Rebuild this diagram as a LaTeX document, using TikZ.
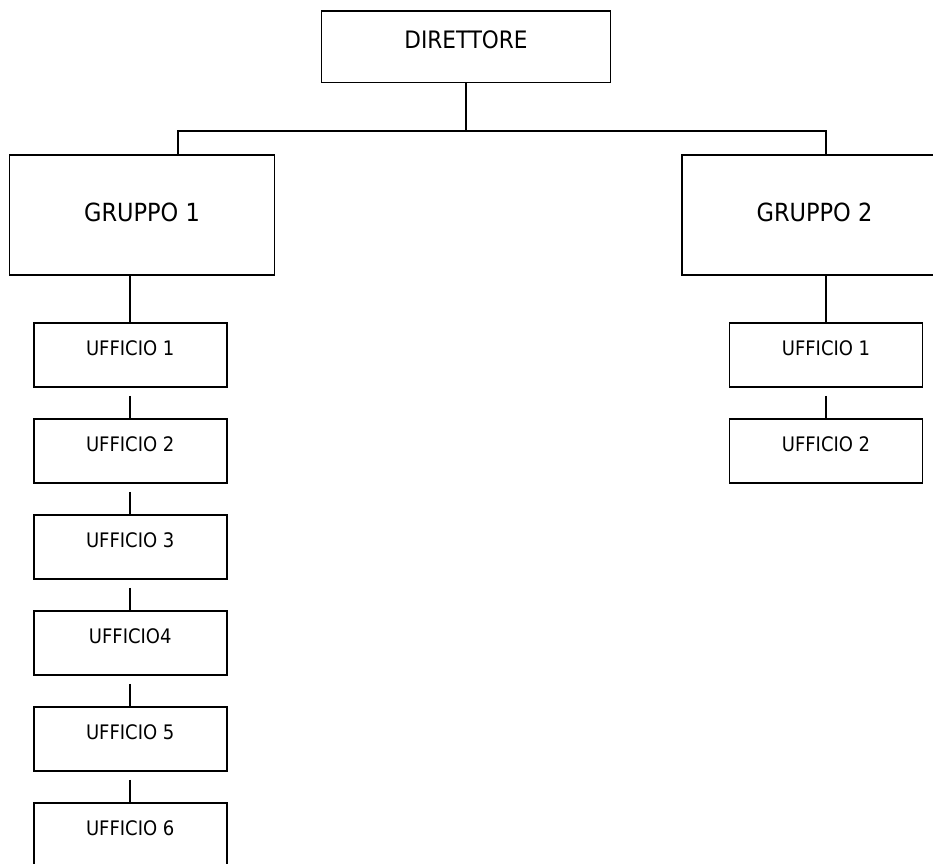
\documentclass[tikz,border=0pt]{standalone}
\usepackage{fontspec}
\setmainfont{DejaVu Sans Condensed}
\begin{document}
\begin{tikzpicture}[x=1pt,y=-1pt,
  box/.style={draw=black, line width=1.8pt, rectangle, inner sep=0pt},
  chief/.style={box, minimum width=289pt, minimum height=71.5pt,
    font=\fontsize{24}{28}\selectfont, text height=17pt, text depth=13pt},
  group/.style={box, minimum width=265pt, minimum height=120pt,
    font=\fontsize{25}{30}\selectfont, text height=18pt, text depth=6pt},
  office/.style={box, minimum width=193pt, minimum height=64pt,
    font=\fontsize{20}{24}\selectfont, text height=15pt, text depth=15pt},
  link/.style={line width=1.8pt},
  gaplink/.style={link, shorten <=8pt},
]
\useasboundingbox (0,0) rectangle (933,863);
\clip (0,0) rectangle (933,863);

% director and the two groups
\node[chief] (dir) at (466,46.75) {DIRETTORE};
\node[group] (g1) at (142,215) {GRUPPO 1};
\node[group] (g2) at (814.5,215) {GRUPPO 2};

% offices of group 1
\node[office] (a1) at (130.2,355) {UFFICIO 1};
\node[office] (a2) at (130.2,451) {UFFICIO 2};
\node[office] (a3) at (130.2,547) {UFFICIO 3};
\node[office] (a4) at (130.2,643) {UFFICIO4};
\node[office] (a5) at (130.2,739) {UFFICIO 5};
\node[office] (a6) at (130.2,835) {UFFICIO 6};

% offices of group 2
\node[office] (b1) at (826,355) {UFFICIO 1};
\node[office] (b2) at (826,451) {UFFICIO 2};

% bus from the director to the groups
\coordinate (bus) at (466,131);
\coordinate (g1in) at (178,155);
\coordinate (g2in) at (826,155);
\draw[link] (dir.south) -- (bus);
\draw[link] (bus) -| (g1in);
\draw[link] (bus) -| (g2in);

% group to first office
\draw[link] (a1.north |- g1.south) -- (a1.north);
\draw[link] (b1.north |- g2.south) -- (b1.north);

% office chains
\draw[gaplink] (a1.south) -- (a2.north);
\draw[gaplink] (a2.south) -- (a3.north);
\draw[gaplink] (a3.south) -- (a4.north);
\draw[gaplink] (a4.south) -- (a5.north);
\draw[gaplink] (a5.south) -- (a6.north);
\draw[gaplink] (b1.south) -- (b2.north);
\end{tikzpicture}
\end{document}
